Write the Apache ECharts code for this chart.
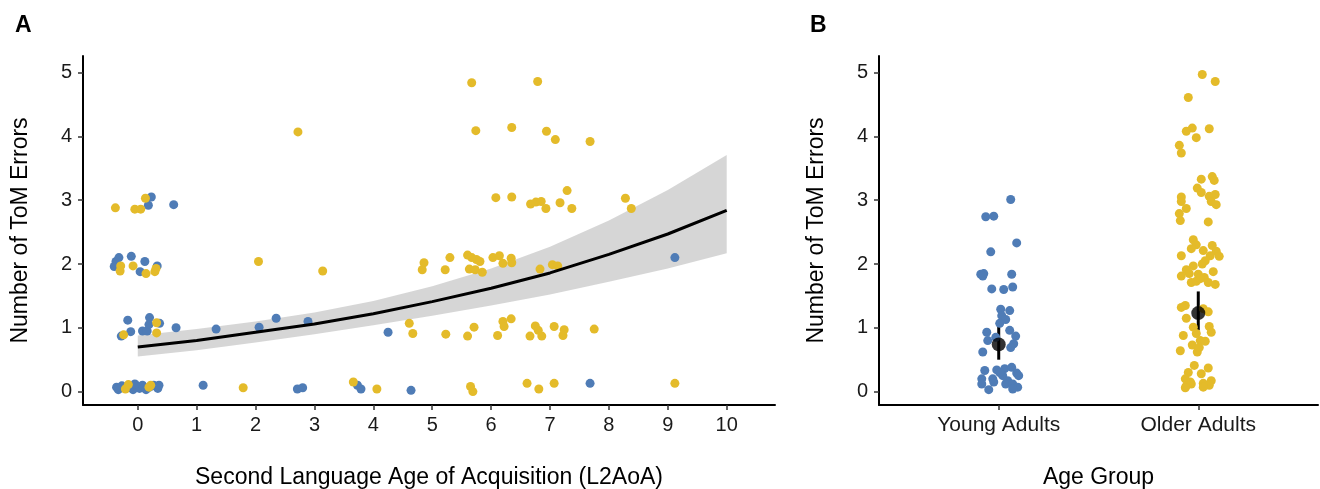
<!DOCTYPE html>
<html>
<head>
<meta charset="utf-8">
<script src="https://cdn.jsdelivr.net/npm/echarts@6/dist/echarts.min.js"></script>
<style>
html,body{margin:0;padding:0;background:#fff;}
#chart{width:1320px;height:489px;}
</style>
</head>
<body>
<div id="chart"></div>
<script>
// ---------- Panel A data: [L2AoA, ToM errors] (jittered as shown) ----------
const youngA = [
  [0.23,3.05],[0.18,2.92],[0.61,2.93],
  [-0.37,2.04],[-0.32,2.10],[-0.40,1.96],[-0.11,2.12],[0.12,2.04],[0.04,1.88],[0.33,1.97],
  [-0.17,1.12],[-0.28,0.87],[-0.12,0.94],[0.08,0.95],[0.16,0.95],[0.20,1.16],[0.19,1.05],[0.37,1.07],
  [0.65,1.00],[1.33,0.98],[2.06,1.01],[2.35,1.15],[2.89,1.10],
  [-0.36,0.07],[-0.33,0.03],[-0.27,0.09],[-0.20,0.05],[-0.13,0.08],[-0.08,0.03],[-0.02,0.09],
  [0.03,0.05],[0.08,0.10],[0.14,0.03],[0.20,0.07],[0.27,0.10],[0.34,0.05],[0.36,0.10],[-0.05,0.12],
  [1.11,0.10],[2.71,0.04],[2.80,0.06],[3.73,0.10],[3.79,0.04],[4.64,0.02],[4.25,0.93],[7.68,0.13],[9.12,2.10]
];
const olderA = [
  [-0.38,2.88],[-0.05,2.86],[0.05,2.86],[0.13,3.03],[2.72,4.07],
  [-0.29,1.97],[-0.30,1.89],[-0.08,1.97],[0.14,1.85],[0.29,1.88],[0.31,1.93],[2.05,2.04],[3.14,1.89],
  [-0.24,0.89],[0.32,1.08],[0.32,0.92],
  [-0.21,0.04],[-0.16,0.11],[0.19,0.07],[0.22,0.10],[1.79,0.06],[3.66,0.15],[4.06,0.04],
  [5.67,4.84],[6.79,4.86],[5.74,4.09],[6.35,4.14],[6.94,4.08],[7.09,3.95],[7.68,3.92],
  [6.08,3.04],[6.35,3.05],[6.67,2.94],[6.76,2.97],[6.85,2.98],[6.93,2.87],[7.17,2.96],[7.29,3.15],
  [7.37,2.87],[8.28,3.03],[8.38,2.87],
  [4.86,2.02],[4.83,1.91],[5.22,1.91],[5.30,2.10],[5.60,2.14],[5.67,2.10],[5.75,2.07],[5.81,2.04],
  [5.63,1.92],[5.73,1.91],[5.85,1.87],[6.03,2.10],[6.14,2.13],[6.20,2.01],[6.34,2.09],[6.35,2.02],
  [6.83,1.92],[7.04,1.99],[7.13,1.97],
  [4.61,1.07],[4.67,0.91],[5.23,0.90],[5.60,0.87],[5.71,1.01],[6.11,0.88],[6.20,1.10],[6.22,1.02],
  [6.34,1.14],[6.66,0.87],[6.75,1.03],[6.80,0.96],[6.86,0.87],[7.07,1.02],[7.22,0.88],[7.24,0.97],[7.75,0.98],
  [5.65,0.08],[5.69,0.00],[6.61,0.13],[6.81,0.04],[7.07,0.13],[9.12,0.13]
];
// fitted curve and confidence band
const fitX    = [0,1,2,3,4,5,6,7,8,9,10];
const fitY    = [0.70,0.80,0.93,1.06,1.22,1.41,1.62,1.86,2.15,2.47,2.84];
const bandLow = [0.55,0.65,0.77,0.90,1.04,1.19,1.35,1.52,1.72,1.93,2.17];
const bandHigh= [0.88,0.98,1.10,1.24,1.42,1.65,1.93,2.27,2.68,3.16,3.71];
const xTicksA = [0,1,2,3,4,5,6,7,8,9,10];
const yTicks  = [0,1,2,3,4,5];

// ---------- Panel B data: [group position (jittered), ToM errors] ----------
const groupNames = ['Young Adults','Older Adults'];
const groupPos   = [1,2];
const youngB = [
  [1.06,3.01],[0.935,2.74],[0.975,2.75],[1.09,2.33],[0.96,2.19],[0.91,1.84],[0.925,1.85],[0.92,1.81],
  [1.065,1.84],[0.965,1.61],[1.025,1.60],[1.07,1.64],[1.01,1.29],[1.055,1.27],[1.015,1.19],[1.035,1.13],
  [1.005,1.07],[0.94,0.93],[1.055,0.96],[1.085,0.87],[0.945,0.80],[0.985,0.85],[1.075,0.75],[1.06,0.69],
  [0.92,0.62],[0.93,0.33],[0.99,0.34],[1.03,0.36],[1.065,0.38],[1.09,0.29],[1.10,0.25],[0.915,0.20],
  [0.97,0.20],[1.02,0.25],[1.045,0.17],[0.915,0.12],[0.975,0.15],[1.035,0.12],[1.07,0.12],[1.095,0.07],
  [0.95,0.03],[1.07,0.04],[1.005,0.30]
];
const olderB = [
  [2.02,4.97],[2.085,4.86],[1.95,4.61],[1.97,4.13],[1.94,4.08],[2.055,4.12],[1.99,3.98],[1.905,3.86],
  [1.915,3.74],[2.015,3.33],[2.07,3.37],[2.08,3.31],[1.995,3.19],[2.015,3.12],[2.055,3.06],[2.085,3.09],
  [1.915,3.05],[1.915,2.98],[2.065,2.98],[2.09,2.93],[1.94,2.87],[1.905,2.79],[1.91,2.68],[2.05,2.66],
  [1.975,2.38],[1.99,2.30],[1.965,2.24],[2.07,2.29],[2.025,2.21],[2.09,2.20],[2.105,2.12],[1.915,2.13],
  [2.06,2.13],[2.035,2.05],[2.02,2.00],[1.975,1.97],[1.94,1.91],[2.075,1.88],[1.955,1.85],[1.915,1.81],
  [2.00,1.84],[2.03,1.79],[1.965,1.71],[1.99,1.73],[2.05,1.71],[2.085,1.68],[2.01,1.77],
  [1.915,1.32],[1.935,1.35],[2.05,1.25],[1.94,1.15],[2.025,1.30],[1.975,1.01],[2.055,1.02],[2.065,0.93],
  [1.99,0.91],[1.925,0.88],[2.01,0.80],[2.035,0.79],[1.97,0.73],[1.91,0.64],[1.995,0.62],[2.005,0.69],
  [1.98,0.41],[2.05,0.37],[1.95,0.30],[2.015,0.28],[2.065,0.17],[1.935,0.20],[1.96,0.15],[2.025,0.13],
  [1.94,0.09],[2.055,0.10],[1.965,0.12],[2.025,0.07],[1.935,0.06]
];
const groupMean = [0.74, 1.23];
const groupLow  = [0.50, 0.96];
const groupHigh = [1.05, 1.57];

// ---------- styles ----------
const FONT = '"Liberation Sans", Arial, Helvetica, sans-serif';
const BLUE = '#4F7CB6';
const YELLOW = '#E4BB2A';
const TICKFS = 20;

function tickStyle(vals){
  return {show:true,length:5,customValues:vals,lineStyle:{color:'#333',width:1.5}};
}
function labelStyle(vals,margin,fmt,fs){
  const o={customValues:vals,margin:margin,color:'#1a1a1a',fontSize:fs||TICKFS,fontFamily:FONT};
  if(fmt) o.formatter=fmt;
  return o;
}
function valueAxis(extra){
  return Object.assign({
    type:'value',
    axisLine:{show:true,onZero:false,lineStyle:{color:'#000',width:2}},
    splitLine:{show:false},
    nameTextStyle:{color:'#000',fontSize:23,fontFamily:FONT},
    nameLocation:'middle'
  }, extra);
}

const chart = echarts.init(document.getElementById('chart'), null, {renderer:'canvas'});
chart.setOption({
  animation:false,
  backgroundColor:'#fff',
  title:[
    {text:'A',left:10,top:9,textStyle:{fontSize:23,fontWeight:'bold',fontFamily:FONT,color:'#000'}},
    {text:'B',left:805,top:9,textStyle:{fontSize:23,fontWeight:'bold',fontFamily:FONT,color:'#000'}}
  ],
  grid:[
    {left:83,right:545,top:56,bottom:84,containLabel:false,outerBoundsMode:'none'},
    {left:879,right:2,top:56,bottom:84,containLabel:false,outerBoundsMode:'none'}
  ],
  xAxis:[
    valueAxis({gridIndex:0,min:-0.93,max:10.82,name:'Second Language Age of Acquisition (L2AoA)',nameGap:61,
      axisTick:tickStyle(xTicksA),axisLabel:labelStyle(xTicksA,10)}),
    valueAxis({gridIndex:1,min:0.4,max:2.6,name:'Age Group',nameGap:61,
      axisTick:tickStyle(groupPos),
      axisLabel:labelStyle(groupPos,10,function(v){const i=groupPos.indexOf(Math.round(v));return i>=0?groupNames[i]:'';},21)})
  ],
  yAxis:[
    valueAxis({gridIndex:0,min:-0.21,max:5.26,name:'Number of ToM Errors',nameGap:51,
      axisTick:tickStyle(yTicks),axisLabel:labelStyle(yTicks,11)}),
    valueAxis({gridIndex:1,min:-0.21,max:5.26,name:'Number of ToM Errors',nameGap:51,
      axisTick:tickStyle(yTicks),axisLabel:labelStyle(yTicks,11)})
  ],
  series:[
    {type:'scatter',xAxisIndex:0,yAxisIndex:0,data:youngA,symbolSize:9,itemStyle:{color:BLUE,opacity:1}},
    {type:'scatter',xAxisIndex:0,yAxisIndex:0,data:olderA,symbolSize:9,itemStyle:{color:YELLOW,opacity:1}},
    {type:'custom',xAxisIndex:0,yAxisIndex:0,
      data:fitX.map((x,i)=>[x,bandLow[i],bandHigh[i]]),
      encode:{x:0,y:[1,2]},
      renderItem:function(params,api){
        if(params.dataIndex!==0) return null;
        const pts=[];
        for(let i=0;i<fitX.length;i++) pts.push(api.coord([fitX[i],bandHigh[i]]));
        for(let i=fitX.length-1;i>=0;i--) pts.push(api.coord([fitX[i],bandLow[i]]));
        return {type:'polygon',shape:{points:pts},style:{fill:'rgba(153,153,153,0.4)'}};
      },
      silent:true},
    {type:'line',xAxisIndex:0,yAxisIndex:0,data:fitX.map((x,i)=>[x,fitY[i]]),
      showSymbol:false,lineStyle:{color:'#000',width:3},silent:true},
    {type:'scatter',xAxisIndex:1,yAxisIndex:1,data:youngB,symbolSize:9,itemStyle:{color:BLUE,opacity:1}},
    {type:'scatter',xAxisIndex:1,yAxisIndex:1,data:olderB,symbolSize:9,itemStyle:{color:YELLOW,opacity:1}},
    {type:'custom',xAxisIndex:1,yAxisIndex:1,
      data:groupPos.map((p,i)=>[p,groupLow[i],groupHigh[i]]),
      encode:{x:0,y:[1,2]},
      renderItem:function(params,api){
        const a=api.coord([api.value(0),api.value(1)]);
        const b=api.coord([api.value(0),api.value(2)]);
        return {type:'line',shape:{x1:a[0],y1:a[1],x2:b[0],y2:b[1]},style:{stroke:'#000',lineWidth:3}};
      },
      silent:true},
    {type:'scatter',xAxisIndex:1,yAxisIndex:1,data:groupPos.map((p,i)=>[p,groupMean[i]]),
      symbolSize:14,itemStyle:{color:'#000'},silent:true}
  ]
});
</script>
</body>
</html>
